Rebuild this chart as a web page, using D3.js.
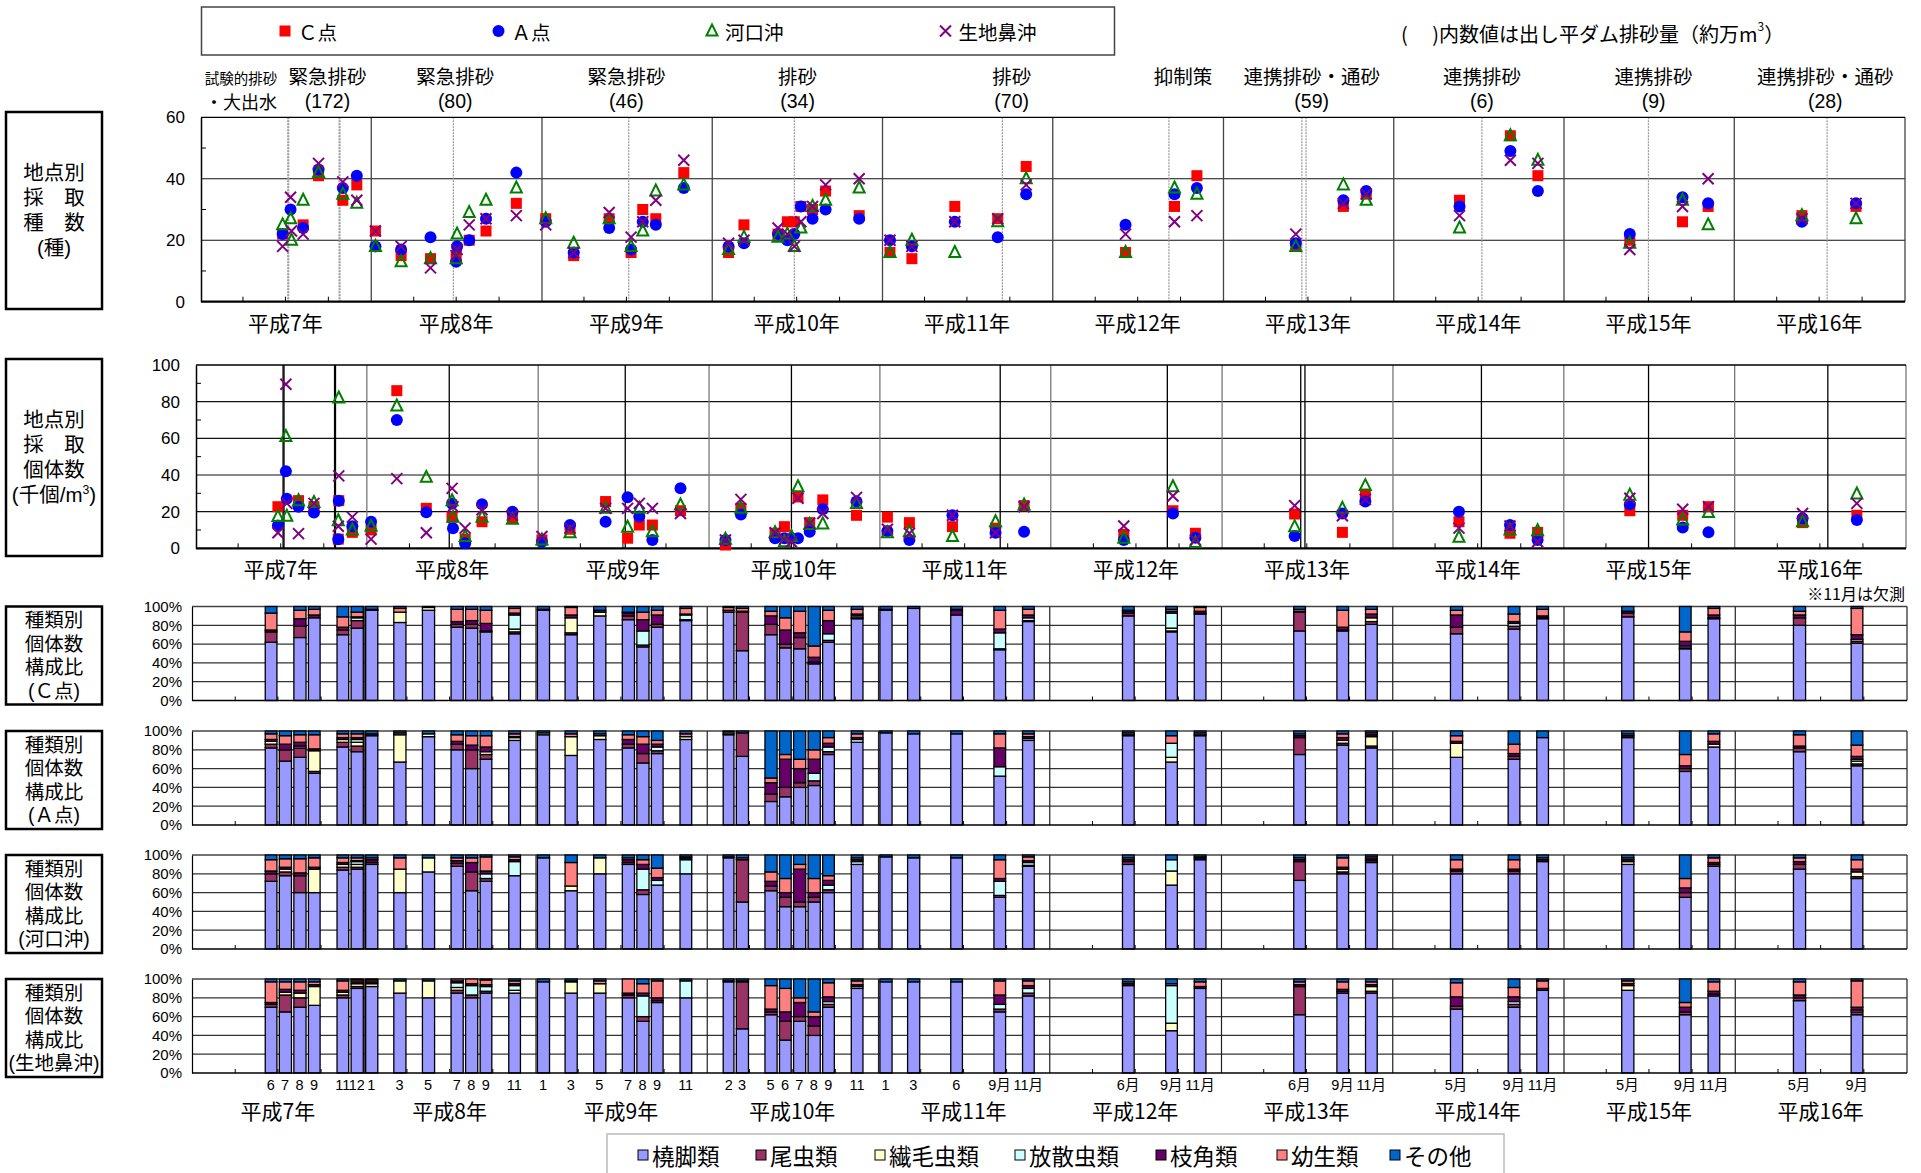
<!DOCTYPE html>
<html lang="ja"><head><meta charset="utf-8">
<script src="https://cdn.jsdelivr.net/npm/d3@7"></script>
<style>
body{margin:0;background:#fff}
svg{display:block}
text{font-family:"Liberation Sans","Noto Sans CJK JP",sans-serif;fill:#000}
.jp{font-family:"Noto Sans CJK JP","Liberation Sans",sans-serif}
.bx{font-family:"Liberation Sans","Noto Sans CJK JP",sans-serif}
</style>
</head><body>
<svg id="c" width="1921" height="1173"></svg>
<script>
// ---------------- DATA ----------------
const stations = ["Ｃ点","Ａ点","河口沖","生地鼻沖"];
const yearLabels = ["平成7年","平成8年","平成9年","平成10年","平成11年","平成12年","平成13年","平成14年","平成15年","平成16年"];

const surveyDates = ["1995-06-25","1995-07-12","1995-07-14","1995-08-08","1995-09-10","1995-11-01","1995-11-02","1995-12-01",
"1996-01-10","1996-03-05","1996-05-07","1996-07-01","1996-07-03","1996-07-29","1996-09-03","1996-11-07",
"1997-01-09","1997-03-10","1997-05-25","1997-07-11","1997-08-05","1997-09-02","1997-11-01",
"1998-02-05","1998-03-10","1998-05-22","1998-06-11","1998-06-26","1998-07-10","1998-08-04","1998-09-01","1998-11-12",
"1999-01-17","1999-03-05","1999-06-05","1999-09-05","1999-11-05",
"2000-06-05","2000-09-18","2000-11-05","2001-06-05","2001-09-15","2001-11-03",
"2002-05-22","2002-09-08","2002-11-06","2003-05-22","2003-09-12","2003-11-06","2004-05-25","2004-09-18"];

// species count (種)
const speciesC = [22,null,null,25,41,33,null,38, 23,15,14,15,null,20,23,32, 27,15,27,16,30,27,42, 16,25,22,26,26,31,30,36,28, 16,14,31,27,44, 16,31,41,18,31,35, 33,54,41,20,26,31,28,31];
const speciesA = [22,30,null,24,43,37,null,41, 18,17,21,13,18,20,27,42, 26,16,24,17,26,25,37, 18,19,22,20,22,31,27,30,27, 20,18,26,21,35, 25,35,37,19,33,36, 31,49,36,22,34,32,26,32];
const speciesK = [25,27,20,33,42,35,null,32, 18,13,14,14,22,29,33,37, 27,19,27,18,23,36,38, 17,21,21,22,18,24,31,33,37, 16,20,16,26,40, 16,37,35,18,38,33, 24,54,46,19,33,25,28,27];
const speciesI = [18,34,23,22,45,39,null,33, 23,18,11,15,17,25,27,28, 25,16,29,21,26,33,46, 19,20,24,22,18,26,31,38,40, 20,18,26,27,38, 22,26,28,22,32,35, 28,46,45,17,31,40,27,32];

// density (千個/m3)
const densityC = [22.7,null,null,26,22.7,5,26,8.7, 10,86,21.8,17,null,5,14.5,16.4, 4.5,10.4,25.5,5.5,12.7,12.7,20.5, 1.8,21.8,8.2,11.8,null,28,14,26.4,18, 17,14,11.8,11,23.3, 7.6,20.5,8.2,18.7,8.7,29.6, 14.5,8.2,8.7,20.5,18,22.7,14,18];
const densityA = [12.4,42,27,22.7,19.5,5,26,12, 14.5,70,19.6,24.5,11,2.7,24,20, 3.6,12.7,14.5,27.8,17.3,4.5,32.7, 4.5,18.5,5.5,5.5,5.5,5.5,9,21.3,25.5, 9.5,4.5,18,8.5,9, 4.5,19,5.8,6.7,19,25.5, 20,12.7,4.5,24,11.3,8.7,16.4,15.5];
const densityK = [17.3,61,17.5,26,25,15,82,10, 12,77.6,38.7,26,17,6.4,17,15.8, 4.5,8.5,21.8,11.5,21.8,9,23.6, 5,21.8,8.5,3.6,6.4,33.6,13,13.3,24.5, 8.5,9,6.4,14.5,23.6, 5.5,33.6,3.1,11.8,21.8,34.2, 6,10,9.6,29,15.5,19.5,14.5,29.6];
const densityI = [8.5,89.5,24.5,8,24.5,12,39.5,17, 5,38,8.5,32.7,22.7,11,21,18, 6.4,11,21.8,21.8,24.5,21.8,19, 4.5,26.7,8.5,5,3.6,27.3,13.6,19,27.8, 10.4,8.2,18,8.5,22.7, 12.2,28.5,4.5,23.3,17.8,26.7, 11,12.2,3.6,27.3,21.3,22.7,19,24.5];

// flushing events
const eventLines = ["1995-07-06","1995-07-08","1995-10-24","1995-10-26","1996-06-25","1997-07-06","1998-06-26","1999-09-15","2000-09-06","2001-06-18","2001-06-27","2002-07-09","2003-07-01","2004-07-18"];
const eventLabels = [
  {date:"1995-09-29", l1:"緊急排砂", l2:"(172)"},
  {date:"1996-06-29", l1:"緊急排砂", l2:"(80)"},
  {date:"1997-07-01", l1:"緊急排砂", l2:"(46)"},
  {date:"1998-07-03", l1:"排砂", l2:"(34)"},
  {date:"1999-10-05", l1:"排砂", l2:"(70)"},
  {date:"2000-10-06", l1:"抑制策", l2:""},
  {date:"2001-07-09", l1:"連携排砂・通砂", l2:"(59)"},
  {date:"2002-07-09", l1:"連携排砂", l2:"(6)"},
  {date:"2003-07-12", l1:"連携排砂", l2:"(9)"},
  {date:"2004-07-14", l1:"連携排砂・通砂", l2:"(28)"}
];
const firstEventLabel = {date:"1995-03-28", l1:"試験的排砂", l2:"・大出水"};

// composition bars
const categories = ["橈脚類","尾虫類","繊毛虫類","放散虫類","枝角類","幼生類","その他"];
const catColors = ["#9999FF","#993366","#FFFFCC","#CCFFFF","#660066","#FF8080","#0066CC"];
const barMonths = ["1995-06","1995-07","1995-08","1995-09","1995-11","1995-12","1996-01","1996-03","1996-05","1996-07","1996-08","1996-09","1996-11",
"1997-01","1997-03","1997-05","1997-07","1997-08","1997-09","1997-11","1998-02","1998-03","1998-05","1998-06","1998-07","1998-08","1998-09","1998-11",
"1999-01","1999-03","1999-06","1999-09","1999-11","2000-06","2000-09","2000-11","2001-06","2001-09","2001-11","2002-05","2002-09","2002-11","2003-05","2003-09","2003-11","2004-05","2004-09"];
const monthLabels = ["6","7","8","9","11","12","1","3","5","7","8","9","11","1","3","5","7","8","9","11","2","3","5","6","7","8","9","11",
"1","3","6","9月","11月","6月","9月","11月","6月","9月","11月","5月","9月","11月","5月","9月","11月","5月","9月"];

const compC = [[62,11,0,0,2,18,7],null,[67,12,0,0,8,9,4],[88,0,0,0,3,6,3],[70,5,0,0,3,11,11],[77,8,0,3,1,5,6],[96,0,0,0,1,0,3],[83,0,11,0,0,4,2],[96,0,3,0,0,0,1],[78,3,0,0,3,13,3],[77,4,0,0,4,12,3],[73,1,0,0,8,14,4],[71,2,3,15,2,5,2],
[96,0,0,0,0,1,3],[70,2,16,0,3,8,1],[90,0,4,0,2,0,4],[86,4,0,0,3,1,6],[57,2,0,15,12,8,6],[78,3,0,0,10,5,4],[85,1,0,5,1,6,2],[94,2,0,0,0,3,1],[53,41,0,0,1,3,2],[70,11,0,0,9,5,5],[56,4,0,0,15,13,12],[55,12,0,0,5,23,5],[39,2,0,0,5,12,42],[62,2,0,7,14,11,4],[87,1,0,2,2,5,3],
[96,0,0,0,1,0,3],[98,0,0,0,0,0,2],[91,0,0,0,5,1,3],[54,1,0,17,4,20,4],[84,1,0,3,3,6,3],[90,3,0,0,2,1,4],[73,1,3,16,2,2,3],[92,1,0,0,2,4,1],[74,20,0,0,1,2,3],[74,1,0,0,3,18,4],[81,3,4,0,4,5,3],[71,7,0,0,13,5,4],[76,3,0,3,2,8,8],[87,1,0,0,2,7,3],[89,4,0,0,2,0,5],[55,1,0,2,5,10,27],[87,1,0,0,3,7,2],[80,8,0,0,3,4,5],[61,2,2,0,5,28,2]];
const compA = [[82,4,3,0,2,6,3],[68,12,0,0,6,9,5],[72,10,2,0,4,8,4],[55,2,22,0,2,15,4],[83,5,3,0,2,4,3],[78,6,4,3,2,4,3],[95,0,0,0,2,0,3],[67,0,29,0,0,2,2],[94,0,3,0,0,0,3],[80,6,0,0,3,7,4],[60,20,0,0,5,10,5],[70,5,3,0,5,12,5],[90,0,3,0,1,3,3],
[96,0,2,0,0,0,2],[74,0,20,0,0,3,3],[91,0,4,0,0,2,3],[82,4,0,0,5,5,4],[66,10,0,0,10,8,6],[76,3,0,4,3,4,10],[91,0,3,0,0,3,3],[96,1,2,0,0,0,1],[73,25,0,0,0,0,2],[25,8,0,0,12,5,50],[30,10,0,0,30,5,25],[40,5,0,0,15,10,30],[42,5,0,8,15,10,20],[75,3,0,5,4,6,7],[88,0,0,3,2,4,3],
[98,0,0,0,0,0,2],[97,0,0,0,0,0,3],[97,0,0,0,0,0,3],[52,0,0,10,20,15,3],[90,0,0,2,2,3,3],[95,0,0,0,1,2,2],[67,0,5,15,0,8,5],[95,0,0,0,1,2,2],[75,18,0,0,2,2,3],[85,2,3,0,3,4,3],[82,2,10,0,2,2,2],[72,0,15,0,2,6,5],[70,3,0,0,3,10,14],[93,0,0,0,0,0,7],[93,0,0,0,2,2,3],[57,3,0,0,3,12,25],[83,0,3,0,3,8,3],[78,4,0,0,2,12,4],[63,2,3,2,3,12,15]];
const compK = [[72,8,0,0,3,12,5],[78,4,3,0,2,9,4],[60,18,0,0,3,15,4],[60,0,25,0,2,10,3],[84,3,3,0,2,5,3],[85,2,3,3,1,3,3],[90,2,0,0,3,2,3],[60,0,25,0,0,12,3],[82,0,15,0,0,0,3],[88,3,0,0,3,3,3],[62,20,0,0,10,5,3],[72,3,0,5,3,15,2],[78,0,0,15,2,3,2],
[97,0,0,0,0,0,3],[62,0,5,0,0,25,8],[80,0,17,0,0,0,3],[90,2,0,0,3,2,3],[58,5,0,22,5,5,5],[68,0,0,5,3,10,14],[80,0,0,15,2,1,2],[97,0,0,0,0,1,2],[50,45,0,0,0,2,3],[62,5,0,0,5,10,18],[45,10,0,0,5,15,25],[45,5,0,0,35,5,10],[50,5,0,0,5,15,25],[60,3,0,5,5,5,22],[90,0,0,3,2,2,3],
[98,0,0,0,0,0,2],[97,0,0,0,0,0,3],[97,0,0,0,0,0,3],[55,2,0,15,3,20,5],[88,1,0,3,2,4,2],[90,3,0,0,2,2,3],[68,0,15,12,0,0,5],[95,0,0,0,2,1,2],[73,20,0,0,2,2,3],[80,2,3,0,2,10,3],[92,2,0,0,2,2,2],[80,3,0,0,2,10,5],[80,3,0,0,2,10,5],[93,0,0,0,2,2,3],[90,0,3,0,2,2,3],[55,5,0,0,5,10,25],[88,2,0,0,2,5,3],[85,5,0,0,3,4,3],[75,2,5,0,3,10,5]];
const compI = [[70,3,0,0,2,22,3],[65,18,3,0,3,8,3],[70,10,5,0,3,9,3],[72,0,20,0,2,3,3],[80,3,3,0,2,10,2],[90,2,3,0,2,2,1],[92,0,3,0,2,2,1],[85,0,13,0,0,0,2],[80,0,18,0,0,0,2],[85,3,3,5,2,2,0],[80,3,0,10,2,5,0],[85,2,0,5,2,5,1],[85,0,3,5,2,3,2],
[97,0,0,0,0,0,3],[85,0,12,0,0,1,2],[85,0,10,0,0,3,2],[80,3,0,0,2,15,0],[55,5,0,22,3,10,5],[75,2,0,0,3,18,2],[80,0,0,18,0,0,2],[97,0,0,0,0,1,2],[47,50,0,0,0,1,2],[62,3,0,0,3,25,7],[35,20,0,0,10,25,10],[55,5,0,0,15,5,20],[40,10,0,0,10,5,35],[70,3,0,3,5,15,4],[90,0,0,2,2,4,2],
[97,0,0,0,0,0,3],[97,0,0,0,0,0,3],[97,0,0,0,0,0,3],[65,3,0,5,10,15,2],[82,3,0,5,3,5,2],[93,0,0,0,2,2,3],[45,0,8,40,0,2,5],[90,0,0,0,2,5,3],[62,30,0,0,2,3,3],[85,2,0,0,2,8,3],[85,2,5,0,2,3,3],[68,3,0,0,10,15,4],[70,3,0,3,5,10,9],[88,0,0,0,2,8,2],[88,0,5,0,2,3,2],[62,3,0,0,5,5,25],[82,2,0,0,3,10,3],[77,3,0,0,3,14,3],[62,3,2,0,3,28,2]];

// ---------------- DRAW ----------------
const svg = d3.select("#c");
const parse = d3.timeParse("%Y-%m-%d");
const parseM = d3.timeParse("%Y-%m");
const T0 = new Date(1995,0,1), T1 = new Date(2005,0,1);
const years = d3.timeYear.range(T0, T1);
const quarters = d3.timeMonth.range(T0, T1).filter(d => d.getMonth()%3===0 && d.getMonth()!==0);
const seriesStyle = [
  {color:"#FF0000", shape:"square"},
  {color:"#0000FF", shape:"circle"},
  {color:"#008000", shape:"triangle"},
  {color:"#800080", shape:"cross"}
];

function marker(g, shape, color, x, y){
  if(shape==="square") g.append("rect").attr("x",x-5.5).attr("y",y-5.5).attr("width",11).attr("height",11).attr("fill",color);
  else if(shape==="circle") g.append("circle").attr("cx",x).attr("cy",y).attr("r",6).attr("fill",color);
  else if(shape==="triangle") g.append("path").attr("d",`M${x},${y-6.5}L${x+5.5},${y+4.5}L${x-5.5},${y+4.5}Z`).attr("fill","none").attr("stroke",color).attr("stroke-width",2);
  else g.append("path").attr("d",`M${x-5.5},${y-5.5}L${x+5.5},${y+5.5}M${x+5.5},${y-5.5}L${x-5.5},${y+5.5}`).attr("stroke",color).attr("stroke-width",2);
}

function sideBox(y0, h, lines, fs, step){
  svg.append("rect").attr("x",6).attr("y",y0).attr("width",96).attr("height",h)
    .attr("fill","none").attr("stroke","#000").attr("stroke-width",2.5);
  const start = y0 + h/2 - step*(lines.length-1)/2;
  lines.forEach((l,i)=>{
    const base = start + i*step + fs*0.36;
    const t = svg.append("text").attr("class","bx").attr("text-anchor","middle").attr("font-size",fs).attr("x",54).attr("y",base);
    if(Array.isArray(l)){
      l.forEach(p=>{
        const s = t.append("tspan").text(p.t);
        if(p.sup) s.attr("font-size",fs*0.6).attr("dy",-8);
        else if(p.after) s.attr("dy",8);
      });
    } else t.text(l);
  });
}

// ----- top legend -----
svg.append("rect").attr("x",201.5).attr("y",7).attr("width",913).attr("height",48).attr("fill","none").attr("stroke","#444").attr("stroke-width",1.5);
const legX = [285, 498.5, 712, 945.5];
stations.forEach((s,i)=>{
  const g = svg.append("g");
  marker(g, seriesStyle[i].shape, seriesStyle[i].color, legX[i], 31);
  svg.append("text").attr("class","jp").attr("x",legX[i]+13).attr("y",31).attr("dominant-baseline","central").attr("font-size",19.5).text(s);
});
{
  const t = svg.append("text").attr("class","jp").attr("x",1401).attr("y",33).attr("dominant-baseline","central").attr("font-size",20);
  t.append("tspan").text("(　 )内数値は出し平ダム排砂量（約万m");
  t.append("tspan").attr("font-size",12).attr("dy",-8).text("3");
  t.append("tspan").attr("dy",8).text("）");
}

// ----- scatter panels -----
function scatterPanel(opt){
  const x = d3.scaleTime().domain([T0,T1]).range([opt.x0,opt.x1]);
  const y = d3.scaleLinear().domain([0,opt.max]).range([opt.yb,opt.yt]);
  const g = svg.append("g");
  g.selectAll(null).data(opt.grid).join("line")
    .attr("x1",opt.x0).attr("x2",opt.x1).attr("y1",d=>y(d)).attr("y2",d=>y(d))
    .attr("stroke","#111").attr("stroke-width",1.2);
  g.selectAll(null).data(years.slice(1).concat([T1])).join("line")
    .attr("x1",d=>x(d)).attr("x2",d=>x(d)).attr("y1",opt.yt).attr("y2",opt.yb)
    .attr("stroke",opt.yearColor).attr("stroke-width",1.3);
  g.selectAll(null).data(eventLines.map(parse)).join("line")
    .attr("x1",d=>x(d)).attr("x2",d=>x(d)).attr("y1",opt.yt).attr("y2",opt.yb)
    .attr("stroke",opt.eventColor).attr("stroke-width",opt.eventWidth).attr("stroke-dasharray",opt.eventDash);
  g.selectAll(null).data(quarters).join("line")
    .attr("x1",d=>x(d)).attr("x2",d=>x(d)).attr("y1",opt.yb).attr("y2",opt.yb-5)
    .attr("stroke","#000").attr("stroke-width",1);
  const ya = d3.axisLeft(y).tickValues(opt.ticks).tickSize(0).tickPadding(16).tickFormat(d3.format("d"));
  const ag = g.append("g").attr("transform",`translate(${opt.x0},0)`).call(ya);
  ag.select(".domain").attr("stroke","#000").attr("stroke-width",1.5);
  ag.selectAll("text").attr("font-size",17).attr("font-family","Liberation Sans");
  g.selectAll(null).data(opt.minor).join("line")
    .attr("x1",opt.x0).attr("x2",opt.x0+5).attr("y1",d=>y(d)).attr("y2",d=>y(d)).attr("stroke","#000");
  g.append("line").attr("x1",opt.x0).attr("x2",opt.x1).attr("y1",opt.yt).attr("y2",opt.yt).attr("stroke","#000").attr("stroke-width",1.3);
  g.append("line").attr("x1",opt.x0).attr("x2",opt.x1).attr("y1",opt.yb).attr("y2",opt.yb).attr("stroke","#000").attr("stroke-width",2.2);
  g.selectAll(null).data(years).join("text").attr("class","jp")
    .attr("x",d=>x(d3.timeMonth.offset(d,6))).attr("y",opt.yb+20).attr("text-anchor","middle")
    .attr("dominant-baseline","central").attr("font-size",21).text((d,i)=>yearLabels[i]);
  const dates = surveyDates.map(parse);
  opt.series.forEach((arr,si)=>{
    const mg = g.append("g");
    arr.forEach((v,i)=>{ if(v!=null) marker(mg, seriesStyle[si].shape, seriesStyle[si].color, x(dates[i]), y(v)); });
  });
  return x;
}

const xP1 = scatterPanel({x0:201,x1:1905,yt:117.3,yb:301.7,max:60,grid:[20,40],ticks:[0,20,40,60],minor:[10,30,50],
  yearColor:"#444",eventColor:"#999",eventWidth:1.2,eventDash:"2,1",series:[speciesC,speciesA,speciesK,speciesI]});
scatterPanel({x0:196,x1:1906,yt:365,yb:548.3,max:100,grid:[20,40,60,80],ticks:[0,20,40,60,80,100],minor:[10,30,50,70,90],
  yearColor:"#777",eventColor:"#000",eventWidth:1.3,eventDash:null,series:[densityC,densityA,densityK,densityI]});

eventLabels.forEach(e=>{
  const xx = xP1(parse(e.date));
  svg.append("text").attr("class","jp").attr("x",xx).attr("y",75).attr("text-anchor","middle").attr("dominant-baseline","central").attr("font-size",19.5).text(e.l1);
  if(e.l2) svg.append("text").attr("x",xx).attr("y",101).attr("text-anchor","middle").attr("dominant-baseline","central").attr("font-size",19.5).text(e.l2);
});
{
  const xx = xP1(parse(firstEventLabel.date));
  svg.append("text").attr("class","jp").attr("x",xx).attr("y",77).attr("text-anchor","middle").attr("dominant-baseline","central").attr("font-size",14.5).text(firstEventLabel.l1);
  svg.append("text").attr("class","jp").attr("x",xx).attr("y",101).attr("text-anchor","middle").attr("dominant-baseline","central").attr("font-size",18).text(firstEventLabel.l2);
}

sideBox(112, 197, ["地点別","採　取","種　数","(種)"], 20.5, 25);
sideBox(359, 197, ["地点別","採　取","個体数",[{t:"(千個/m"},{t:"3",sup:true},{t:")",after:true}]], 20.5, 25);

// ----- composition panels -----
const xs = d3.scaleTime().domain([T0,T1]).range([193,1907]);
const comps = [compC, compA, compK, compI];
const panelTops = [606.5, 731, 855, 979];
const PH = 94;
const boxLabels = ["(Ｃ点)","(Ａ点)","(河口沖)","(生地鼻沖)"];
const stack = d3.stack().keys(d3.range(7)).value((d,k)=>d.v[k]);

comps.forEach((comp,pi)=>{
  const yt = panelTops[pi], yb = yt+PH;
  const y = d3.scaleLinear().domain([0,100]).range([yb,yt]);
  const g = svg.append("g");
  g.selectAll(null).data([20,40,60,80]).join("line")
    .attr("x1",192).attr("x2",1907).attr("y1",d=>y(d)).attr("y2",d=>y(d)).attr("stroke","#333").attr("stroke-width",1.2);
  g.append("line").attr("x1",192).attr("x2",1907).attr("y1",yt).attr("y2",yt).attr("stroke","#444").attr("stroke-width",1.5);
  g.selectAll(null).data(years.slice(1).concat([T1])).join("line")
    .attr("x1",d=>xs(d)).attr("x2",d=>xs(d)).attr("y1",yt).attr("y2",yb).attr("stroke","#222").attr("stroke-width",1.2);
  g.selectAll(null).data(quarters).join("line")
    .attr("x1",d=>xs(d)).attr("x2",d=>xs(d)).attr("y1",yb).attr("y2",yb-4).attr("stroke","#000");
  const ya = d3.axisLeft(y).tickValues([0,20,40,60,80,100]).tickSize(0).tickPadding(10).tickFormat(d=>d+"%");
  const ag = g.append("g").attr("transform","translate(192,0)").call(ya);
  ag.select(".domain").attr("stroke","#000").attr("stroke-width",1.2);
  ag.selectAll("text").attr("font-size",15).attr("font-family","Liberation Sans");

  const rows = barMonths.map((m,i)=>({m:parseM(m), v:comp[i]})).filter(d=>d.v)
    .map(d=>{ const s=d3.sum(d.v); return {m:d.m, v:d.v.map(x=>x*100/s)}; });
  const layers = stack(rows);
  layers.forEach((layer,k)=>{
    g.append("g").selectAll("rect").data(layer.filter(d=>d[1]-d[0]>0.01)).join("rect")
      .attr("x",d=>xs(d.data.m)+1.4)
      .attr("width",d=>xs(d3.timeMonth.offset(d.data.m,1))-xs(d.data.m)-2.4)
      .attr("y",d=>y(d[1])).attr("height",d=>y(d[0])-y(d[1]))
      .attr("fill",catColors[k]).attr("stroke","#000").attr("stroke-width",1.3);
  });
  g.append("line").attr("x1",192).attr("x2",1907).attr("y1",yb).attr("y2",yb).attr("stroke","#000").attr("stroke-width",1.6);
  sideBox(yt, 98, ["種類別","個体数","構成比",boxLabels[pi]], 19.5, 23.5);
});

svg.append("text").attr("class","jp").attr("x",1905).attr("y",593).attr("text-anchor","end").attr("dominant-baseline","central").attr("font-size",16).text("※11月は欠測");

svg.append("g").selectAll("text").data(barMonths).join("text")
  .attr("x",d=>xs(d3.timeDay.offset(parseM(d),15))).attr("y",1085)
  .attr("text-anchor","middle").attr("dominant-baseline","central").attr("font-size",14.5)
  .text((d,i)=>monthLabels[i]);
svg.append("g").selectAll("text").data(years).join("text")
  .attr("class","jp").attr("x",d=>xs(d3.timeMonth.offset(d,6))).attr("y",1110)
  .attr("text-anchor","middle").attr("dominant-baseline","central").attr("font-size",21)
  .text((d,i)=>yearLabels[i]);

svg.append("rect").attr("x",607).attr("y",1134).attr("width",897).attr("height",60).attr("fill","none").attr("stroke","#bbb").attr("stroke-width",1.5);
const legBX = [643, 761, 880, 1020, 1161, 1282, 1395];
categories.forEach((c,i)=>{
  svg.append("rect").attr("x",legBX[i]-5).attr("y",1150).attr("width",10).attr("height",10)
    .attr("fill",catColors[i]).attr("stroke","#000").attr("stroke-width",1);
  svg.append("text").attr("class","jp").attr("x",legBX[i]+9).attr("y",1155).attr("dominant-baseline","central").attr("font-size",22.5).text(c);
});
</script>
</body></html>
